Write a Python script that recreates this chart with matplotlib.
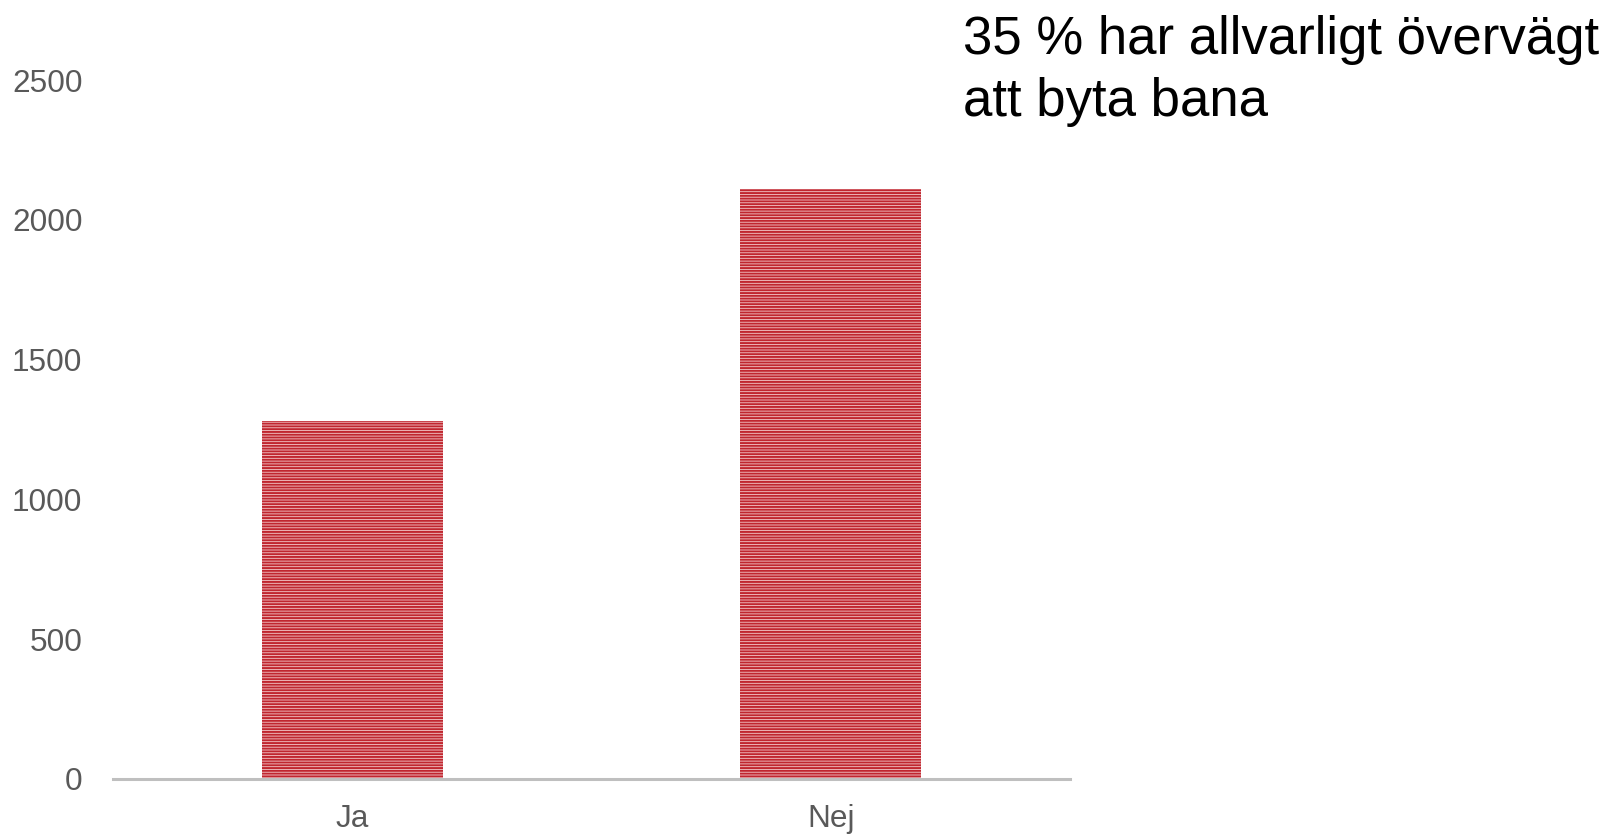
import matplotlib
matplotlib.use("Agg")
import matplotlib.pyplot as plt

# data
categories = ["Ja", "Nej"]
counts = [1280, 2110]
y_ticks = [0, 500, 1000, 1500, 2000, 2500]
title_text = "35 % har allvarligt övervägt\natt byta bana"

plt.rcParams["font.family"] = ["Liberation Sans", "DejaVu Sans"]
plt.rcParams["hatch.linewidth"] = 1.4

W, H = 1613, 835
fig = plt.figure(figsize=(W / 100, H / 100), dpi=100)
ax = fig.add_axes([113 / W, 56 / H, (1070 - 113) / W, (779 - 80) / H])

x = range(len(categories))
ax.bar(x, counts, width=0.378, color="#F3C9CB", edgecolor="#C0262F",
       hatch="------", linewidth=0)

ax.set_xlim(-0.5, 1.5)
ax.set_ylim(0, 2500)
ax.set_yticks(y_ticks)
ax.set_xticks(list(x))
ax.set_xticklabels(categories)

for side in ["top", "right", "left"]:
    ax.spines[side].set_visible(False)
ax.spines["bottom"].set_color("#BFBFBF")
ax.spines["bottom"].set_linewidth(2.2)

ax.tick_params(axis="y", length=0, pad=22, labelsize=22.7, labelcolor="#595959")
ax.tick_params(axis="x", length=0, pad=18, labelsize=22.7, labelcolor="#595959")

fig.text(963 / W, 1 - 15 / H, title_text, fontsize=38, color="black",
         ha="left", va="top", linespacing=1.3)

fig.savefig("out.png", dpi=100, facecolor="white")
